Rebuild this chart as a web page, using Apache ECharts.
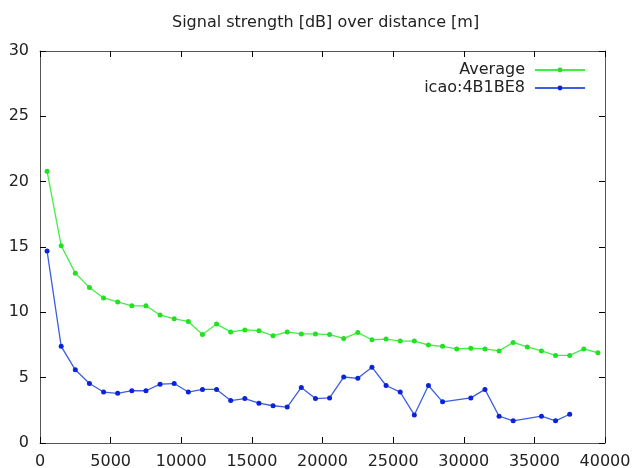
<!DOCTYPE html>
<html>
<head>
<meta charset="utf-8">
<script src="https://cdn.jsdelivr.net/npm/echarts@6/dist/echarts.min.js"></script>
<style>
  html, body { margin: 0; padding: 0; background: #fff; }
  #chart { width: 632px; height: 468px; }
</style>
</head>
<body>
<div id="chart"></div>
<script>
// distance bins (m), centre of each 1000 m bin
var avgDist = [500, 1500, 2500, 3500, 4500, 5500, 6500, 7500, 8500, 9500,
  10500, 11500, 12500, 13500, 14500, 15500, 16500, 17500, 18500, 19500,
  20500, 21500, 22500, 23500, 24500, 25500, 26500, 27500, 28500, 29500,
  30500, 31500, 32500, 33500, 34500, 35500, 36500, 37500, 38500, 39500];
var avgDb = [20.8, 15.1, 13.0, 11.9, 11.1, 10.8, 10.5, 10.5, 9.8, 9.5,
  9.3, 8.3, 9.1, 8.5, 8.65, 8.6, 8.2, 8.5, 8.35, 8.35,
  8.3, 8.0, 8.45, 7.9, 7.95, 7.8, 7.8, 7.5, 7.4, 7.2,
  7.25, 7.2, 7.05, 7.7, 7.35, 7.05, 6.7, 6.7, 7.2, 6.9];

// single aircraft, some bins have no data
var icaoDist = [500, 1500, 2500, 3500, 4500, 5500, 6500, 7500, 8500, 9500,
  10500, 11500, 12500, 13500, 14500, 15500, 16500, 17500, 18500, 19500,
  20500, 21500, 22500, 23500, 24500, 25500, 26500, 27500, 28500,
  30500, 31500, 32500, 33500, 35500, 36500, 37500];
var icaoDb = [14.7, 7.4, 5.6, 4.55, 3.9, 3.8, 4.0, 4.0, 4.5, 4.55,
  3.9, 4.1, 4.1, 3.25, 3.4, 3.05, 2.85, 2.75, 4.25, 3.4,
  3.45, 5.05, 4.95, 5.8, 4.4, 3.9, 2.15, 4.4, 3.15,
  3.45, 4.1, 2.05, 1.7, 2.05, 1.7, 2.2];

function pairs(xs, ys) {
  return xs.map(function (x, i) { return [x, ys[i]]; });
}

var font = 'DejaVu Sans';
var chart = echarts.init(document.getElementById('chart'), null, { renderer: 'canvas' });

var tickStyle = { inside: true, length: 6, lineStyle: { color: '#000', width: 1 } };
var borderLine = { show: true, onZero: false, lineStyle: { color: '#555', width: 1 } };
var plain = function (v) { return String(v); };

var option = {
  animation: false,
  backgroundColor: '#fff',
  title: {
    text: 'Signal strength [dB] over distance [m]',
    left: 167,
    top: 10,
    textStyle: { fontFamily: font, fontSize: 16, fontWeight: 'normal', color: '#222' }
  },
  legend: {
    right: 41,
    top: 57,
    orient: 'vertical',
    align: 'right',
    itemWidth: 50,
    itemHeight: 6,
    itemGap: 2,
    textStyle: { fontFamily: font, fontSize: 16, color: '#222', padding: [0, 5, 0, 0] },
    data: ['Average', 'icao:4B1BE8']
  },
  grid: { left: 40, right: 27, top: 51, bottom: 25, containLabel: false, outerBoundsMode: 'none' },
  xAxis: [{
    type: 'value',
    min: 0, max: 40000, interval: 5000,
    axisLine: borderLine,
    axisTick: tickStyle,
    splitLine: { show: false },
    axisLabel: { fontFamily: font, fontSize: 16, color: '#222', margin: 11, formatter: plain }
  }, {
    type: 'value', position: 'top',
    min: 0, max: 40000, interval: 5000,
    axisLine: borderLine, axisTick: tickStyle,
    axisLabel: { show: false }, splitLine: { show: false }
  }],
  yAxis: [{
    type: 'value',
    min: 0, max: 30, interval: 5,
    axisLine: borderLine,
    axisTick: tickStyle,
    splitLine: { show: false },
    axisLabel: { fontFamily: font, fontSize: 16, color: '#222', margin: 11, formatter: plain }
  }, {
    type: 'value', position: 'right',
    min: 0, max: 30, interval: 5,
    axisLine: borderLine, axisTick: tickStyle,
    axisLabel: { show: false }, splitLine: { show: false }
  }],
  series: [{
    name: 'Average',
    type: 'line',
    data: pairs(avgDist, avgDb),
    symbol: 'circle',
    symbolSize: 5,
    lineStyle: { color: '#44ee44', width: 1.3 },
    itemStyle: { color: '#22e022' }
  }, {
    name: 'icao:4B1BE8',
    type: 'line',
    data: pairs(icaoDist, icaoDb),
    symbol: 'circle',
    symbolSize: 5,
    lineStyle: { color: '#3c5fe0', width: 1.3 },
    itemStyle: { color: '#0a22d8' }
  }]
};

chart.setOption(option);
</script>
</body>
</html>
